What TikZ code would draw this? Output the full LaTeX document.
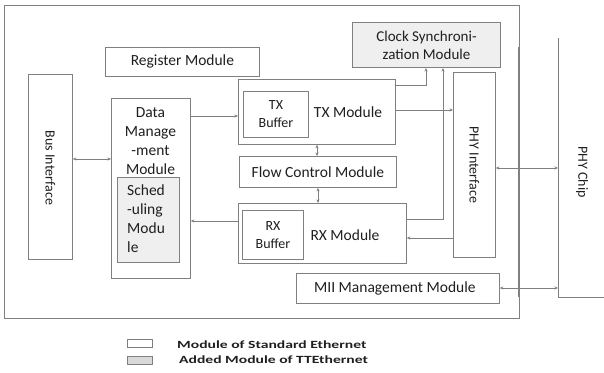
\documentclass[tikz,border=0pt]{standalone}
\usepackage{fontspec}
\setmainfont{Carlito}
\usetikzlibrary{arrows.meta}
\definecolor{lc}{HTML}{808080}
\definecolor{gfill}{HTML}{EFEFEF}
\definecolor{lgfill}{HTML}{D9D9D9}
\definecolor{tc}{HTML}{1F1F1F}
\begin{document}
\begin{tikzpicture}[x=1pt,y=-1pt,
  mod/.style={draw=lc, line width=0.8pt, fill=white, inner sep=0pt, anchor=north west},
  added/.style={mod, fill=gfill},
  conn/.style={draw=lc, line width=0.7pt},
  tip/.style={-{Stealth[length=3.5pt,width=3pt]}},
  tips/.style={{Stealth[length=3.5pt,width=3pt]}-{Stealth[length=3.5pt,width=3pt]}},
  lbl/.style={text=tc, font=\fontsize{15.5}{19}\selectfont, inner sep=0pt, align=center},
  small/.style={lbl, font=\fontsize{14}{18}\selectfont},
  vert/.style={lbl, font=\fontsize{14}{16}\selectfont, rotate=-90},
  leg/.style={text=tc, font=\bfseries\fontsize{11}{13}\selectfont, inner sep=0pt, anchor=west}
]
\useasboundingbox (0,0) rectangle (604,372);
% outer frame
\node[draw=lc, line width=0.8pt, anchor=north west, minimum width=515pt, minimum height=313pt, inner sep=0pt] (frame) at (4,5) {};
% bus line at the right edge of the frame
\coordinate (busT) at (519,47);
\coordinate (busB) at (519,297);
\draw[lc, line width=1.4pt] (busT) -- (busB);

% modules
\node[mod, minimum width=154pt, minimum height=29pt] (reg) at (105,47) {};
\node[lbl] at (reg.center) {Register Module};

\node[mod, minimum width=44pt, minimum height=185pt] (bus) at (28,74) {};
\node[vert] at ([yshift=-1pt]bus.center) {Bus Interface};

\node[mod, minimum width=79pt, minimum height=180pt] (dmm) at (111,98) {};
\node[lbl] at (150.5,141) {Data\\Manage\\-ment\\Module};

\node[added, minimum width=62pt, minimum height=85pt, line width=1pt] (sched) at (117,177) {};
\node[lbl, align=left, anchor=west] at (127,219) {Sched\\-uling\\Modu\\le};

\node[mod, minimum width=157pt, minimum height=65pt] (tx) at (238,79) {};
\node[mod, minimum width=65pt, minimum height=46pt, line width=1pt] (txb) at (243,91) {};
\node[small] at (txb.center) {TX\\Buffer};
\node[lbl] at (348,112) {TX Module};

\node[mod, minimum width=157pt, minimum height=31pt] (flow) at (239,156) {};
\node[lbl] at (flow.center) {Flow Control Module};

\node[mod, minimum width=168pt, minimum height=60pt] (rx) at (238,203) {};
\node[mod, minimum width=61pt, minimum height=49pt, line width=1pt] (rxb) at (242,210) {};
\node[small] at (rxb.center) {RX\\Buffer};
\node[lbl] at (345,235) {RX Module};

\node[added, minimum width=148pt, minimum height=45pt, line width=1pt] (clock) at (352,22) {};
\node[lbl, font=\fontsize{15}{18}\selectfont] at (clock.center) {Clock Synchroni-\\zation Module};

\node[mod, minimum width=42pt, minimum height=185pt] (phyi) at (453,72) {};
\node[vert] at (phyi.center) {PHY Interface};

\node[mod, minimum width=203pt, minimum height=30pt] (mii) at (296,273) {};
\node[lbl] at ([xshift=-3pt]mii.center) {MII Management Module};

% PHY chip (cut at the right edge)
\coordinate (chipT) at (558,38);
\coordinate (chipBL) at (558,297);
\coordinate (chipBR) at (604,297);
\draw[lc, line width=0.9pt] (chipT) -- (chipBL) -- (chipBR);
\node[vert] (chip) at (582,172) {PHY Chip};

% connectors
\draw[conn, tips] (bus.east |- 0,159) -- (dmm.west |- 0,159);
\draw[conn, tip] (dmm.east |- 0,116) -- (tx.west |- 0,116);
\draw[conn, tip] (rx.west |- 0,221) -- (dmm.east |- 0,221);
\draw[conn, tips] (tx.south -| 317,0) -- (flow.north -| 317,0);
\draw[conn, tips] (flow.south -| 318,0) -- (rx.north -| 318,0);
\draw[conn, tip] (tx.east |- 0,85) -| (clock.south -| 426,0);
\draw[conn, tip] (rx.east |- 0,219) -| (clock.south -| 443,0);
\draw[conn, tip] (tx.east |- 0,110) -- (phyi.west |- 0,110);
\draw[conn, tip] (phyi.west |- 0,238) -- (rx.east |- 0,238);
\draw[conn, tips] (phyi.east |- 0,168) -- (chipBL |- 0,168);
\draw[conn, tips] (mii.east |- 0,288) -- (chipBL |- 0,288);

% legend
\node[mod, minimum width=25pt, minimum height=8pt, line width=1.2pt] (lstd) at (127,339) {};
\node[mod, fill=lgfill, minimum width=25pt, minimum height=8pt, line width=1.2pt] (ladd) at (127,356) {};
\node[leg] at (177,345) {\scalebox{1.42}[1]{Module of Standard Ethernet}};
\node[leg] at (179,360) {\scalebox{1.42}[1]{Added Module of TTEthernet}};
\end{tikzpicture}
\end{document}
